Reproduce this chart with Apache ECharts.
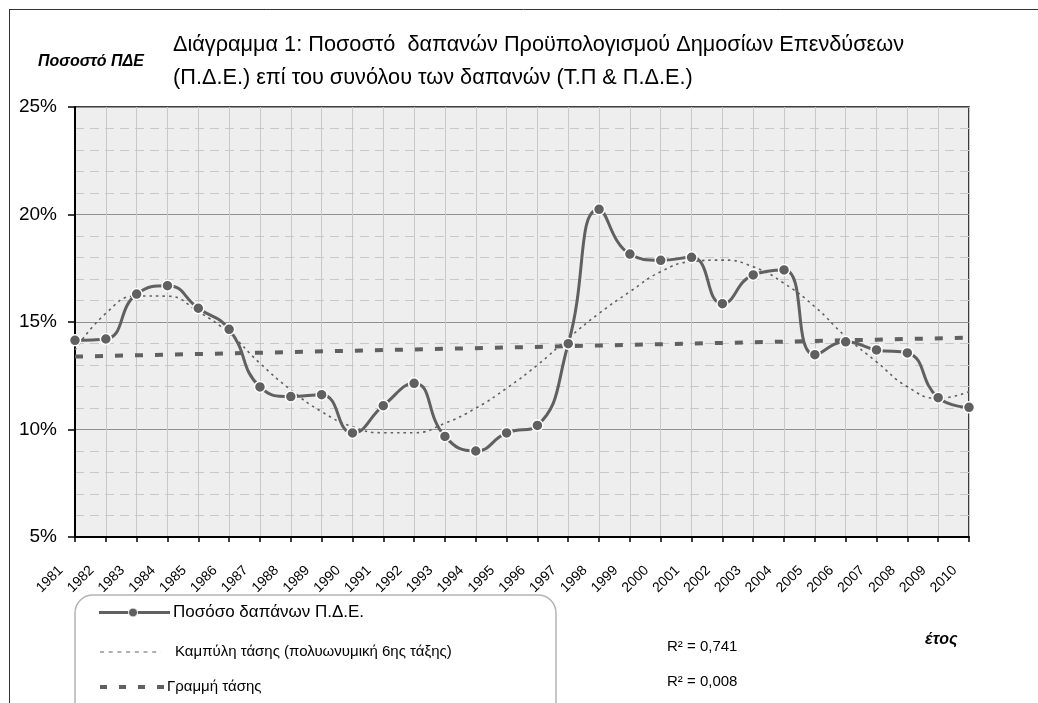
<!DOCTYPE html>
<html>
<head>
<meta charset="utf-8">
<script src="https://cdn.jsdelivr.net/npm/echarts@6/dist/echarts.min.js"></script>
<style>
html,body{margin:0;padding:0;background:#fff;}
#chart{width:1038px;height:703px;}
</style>
</head>
<body>
<div id="chart"></div>
<script>
const years = ['1981','1982','1983','1984','1985','1986','1987','1988','1989','1990','1991','1992','1993','1994','1995','1996','1997','1998','1999','2000','2001','2002','2003','2004','2005','2006','2007','2008','2009','2010'];
const shareValues = [14.15,14.21,16.30,16.69,15.64,14.66,11.98,11.53,11.62,9.84,11.11,12.15,9.68,9.00,9.84,10.19,13.99,20.24,18.16,17.87,18.01,15.85,17.19,17.42,13.48,14.08,13.70,13.56,11.48,11.03];
const polyTrendValues = [13.7,15.4,16.21,16.2,15.48,14.47,13.08,11.84,10.83,10.13,9.85,9.85,10.29,10.99,11.92,13.0,14.24,15.4,16.41,17.34,17.81,17.88,17.57,16.8,15.71,14.32,13.15,11.99,11.45,11.76];
const linearTrendStart = 13.39;
const linearTrendEnd = 14.27;
const yTicks = [5,10,15,20,25];

const seriesNames = ['Ποσόσο δαπάνων Π.Δ.Ε.','Καμπύλη τάσης (πολυωνυμική 6ης τάξης)','Γραμμή τάσης'];
const titleLines = ['Διάγραμμα 1: Ποσοστό  δαπανών Προϋπολογισμού Δημοσίων Επενδύσεων','(Π.Δ.Ε.) επί του συνόλου των δαπανών (Τ.Π & Π.Δ.Ε.)'];
const yAxisTitle = 'Ποσοστό ΠΔΕ';
const xAxisTitle = 'έτος';
const r2Texts = ['R² = 0,741','R² = 0,008'];

const linearData = years.map((y,i)=> i===0 ? linearTrendStart : (i===years.length-1 ? linearTrendEnd : null));

const chart = echarts.init(document.getElementById('chart'), null, {renderer:'canvas'});
const FONT = '"Liberation Sans", Arial, sans-serif';
const GREY = '#606060';

chart.setOption({
  animation:false,
  backgroundColor:'#ffffff',
  title:{
    text: titleLines.join('\n'),
    left:173, top:29, padding:0,
    textStyle:{fontFamily:FONT,fontSize:21.7,fontWeight:'normal',color:'#000',lineHeight:33}
  },
  grid:{
    left:75, right:69, top:107, bottom:166,
    show:true, backgroundColor:'#eeeeee', borderColor:'#000', borderWidth:1.5
  },
  xAxis:{
    type:'category', data:years, boundaryGap:false,
    axisLine:{lineStyle:{color:'#000',width:2}},
    axisTick:{show:true,length:5,lineStyle:{color:'#000',width:1.5}},
    axisLabel:{rotate:45,fontFamily:FONT,fontSize:14,color:'#000',margin:17,interval:0,padding:[0,20,0,0]},
    splitLine:{show:true,lineStyle:{color:'#c8c8c8',width:1}}
  },
  yAxis:{
    type:'value', min:yTicks[0], max:yTicks[yTicks.length-1], interval:5,
    axisLine:{show:true,lineStyle:{color:'#000',width:2}},
    axisTick:{show:true,length:7,lineStyle:{color:'#000',width:1.5}},
    axisLabel:{formatter:'{value}%',fontFamily:FONT,fontSize:19,color:'#000',margin:18},
    splitLine:{show:true,lineStyle:{color:'#909090',width:1}},
    minorTick:{show:false,splitNumber:5},
    minorSplitLine:{show:true,lineStyle:{color:'#c8c8c8',width:1,type:[9,6]}}
  },
  series:[
    {
      name:seriesNames[1], type:'line', data:polyTrendValues, smooth:true,
      showSymbol:false, symbol:'none', z:2,
      lineStyle:{color:GREY,width:1.6,type:[2.5,4]}
    },
    {
      name:seriesNames[2], type:'line', data:linearData, connectNulls:true,
      showSymbol:false, symbol:'none', z:2,
      lineStyle:{color:GREY,width:4,type:[8,12]}
    },
    {
      name:seriesNames[0], type:'line', data:shareValues, smooth:0.5,
      symbol:'circle', symbolSize:11, z:3,
      lineStyle:{color:GREY,width:3},
      itemStyle:{color:GREY,borderColor:'#fff',borderWidth:1.5}
    }
  ],
  graphic:[
    {type:'line',shape:{x1:9,y1:9.5,x2:1038,y2:9.5},style:{stroke:'#333',lineWidth:1}},
    {type:'line',shape:{x1:9.5,y1:9,x2:9.5,y2:703},style:{stroke:'#333',lineWidth:1}},
    {type:'rect',shape:{x:75,y:595,width:481,height:130,r:18},style:{fill:'none',stroke:'#b4b4b4',lineWidth:1.5},z:-1},
    // legend
    {type:'line',shape:{x1:99,y1:612.5,x2:170,y2:612.5},style:{stroke:GREY,lineWidth:3}},
    {type:'circle',shape:{cx:133,cy:612.5,r:4.5},style:{fill:GREY,stroke:'#fff',lineWidth:1}},
    {type:'text',x:173,y:612,style:{text:seriesNames[0],font:'17px '+FONT,fill:'#000',verticalAlign:'middle'}},
    {type:'line',shape:{x1:100,y1:652,x2:161,y2:652},style:{stroke:GREY,lineWidth:1.2,lineDash:[4,4.7]}},
    {type:'text',x:175,y:652,style:{text:seriesNames[1],font:'15px '+FONT,fill:'#000',verticalAlign:'middle'}},
    {type:'line',shape:{x1:100,y1:687,x2:164,y2:687},style:{stroke:GREY,lineWidth:4,lineDash:[7,12]}},
    {type:'text',x:167,y:687,style:{text:seriesNames[2],font:'15px '+FONT,fill:'#000',verticalAlign:'middle'}},
    // axis titles
    {type:'text',x:38,y:62,style:{text:yAxisTitle,font:'italic bold 16px '+FONT,fill:'#000',verticalAlign:'middle'}},
    {type:'text',x:925,y:640,style:{text:xAxisTitle,font:'italic bold 16px '+FONT,fill:'#000',verticalAlign:'middle'}},
    {type:'text',x:667,y:647,style:{text:r2Texts[0],font:'15px '+FONT,fill:'#000',verticalAlign:'middle'}},
    {type:'text',x:667,y:682,style:{text:r2Texts[1],font:'15px '+FONT,fill:'#000',verticalAlign:'middle'}}
  ]
});
</script>
</body>
</html>
